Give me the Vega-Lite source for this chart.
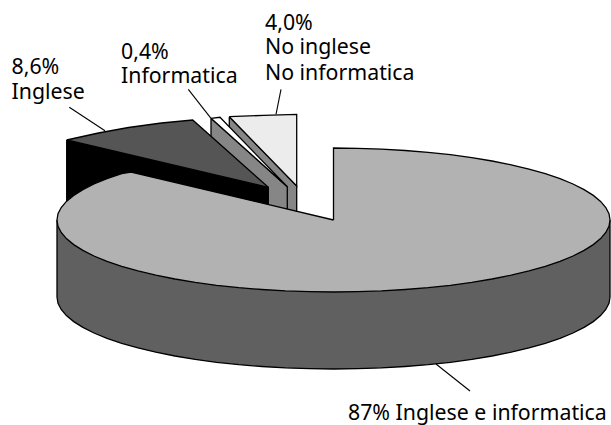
{"$schema":"https://vega.github.io/schema/vega-lite/v6.json","width":611,"height":425,"padding":0,"autosize":"none","background":"white","view":{"stroke":null},
"datasets":{
"mainSide":[{"x":-276.5,"y":0},{"x":-276.5,"y":-77},{"x":-275.5,"y":-83.3},{"x":-272.3,"y":-89.5},{"x":-267.1,"y":-95.6},{"x":-259.8,"y":-101.6},{"x":-250.6,"y":-107.4},{"x":-239.5,"y":-113},{"x":-226.5,"y":-118.3},{"x":-211.8,"y":-123.3},{"x":-195.5,"y":-127.9},{"x":-177.7,"y":-132.2},{"x":-158.6,"y":-136},{"x":-138.3,"y":-139.4},{"x":-116.9,"y":-142.3},{"x":-94.6,"y":-144.7},{"x":-71.6,"y":-146.5},{"x":-48,"y":-147.9},{"x":-24.1,"y":-148.7},{"x":0,"y":-149},{"x":24.1,"y":-148.7},{"x":48,"y":-147.9},{"x":71.6,"y":-146.5},{"x":94.6,"y":-144.7},{"x":116.9,"y":-142.3},{"x":138.3,"y":-139.4},{"x":158.6,"y":-136},{"x":177.7,"y":-132.2},{"x":195.5,"y":-127.9},{"x":211.8,"y":-123.3},{"x":226.5,"y":-118.3},{"x":239.5,"y":-113},{"x":250.6,"y":-107.4},{"x":259.8,"y":-101.6},{"x":267.1,"y":-95.6},{"x":272.3,"y":-89.5},{"x":275.5,"y":-83.3},{"x":276.5,"y":-77},{"x":276.5,"y":0}],
"mainTop":[{"x":0,"y":0},{"x":0,"y":72},{"x":24.1,"y":71.7},{"x":48,"y":70.9},{"x":71.6,"y":69.5},{"x":94.6,"y":67.7},{"x":116.9,"y":65.3},{"x":138.3,"y":62.4},{"x":158.6,"y":59},{"x":177.7,"y":55.2},{"x":195.5,"y":50.9},{"x":211.8,"y":46.3},{"x":226.5,"y":41.3},{"x":239.5,"y":36},{"x":250.6,"y":30.4},{"x":259.8,"y":24.6},{"x":267.1,"y":18.6},{"x":272.3,"y":12.5},{"x":275.5,"y":6.3},{"x":276.5,"y":0},{"x":275.5,"y":-6.3},{"x":272.3,"y":-12.5},{"x":267.1,"y":-18.6},{"x":259.8,"y":-24.6},{"x":250.6,"y":-30.4},{"x":239.5,"y":-36},{"x":226.5,"y":-41.3},{"x":211.8,"y":-46.3},{"x":195.5,"y":-50.9},{"x":177.7,"y":-55.2},{"x":158.6,"y":-59},{"x":138.3,"y":-62.4},{"x":116.9,"y":-65.3},{"x":94.6,"y":-67.7},{"x":71.6,"y":-69.5},{"x":48,"y":-70.9},{"x":24.1,"y":-71.7},{"x":0,"y":-72},{"x":-24.1,"y":-71.7},{"x":-48,"y":-70.9},{"x":-71.6,"y":-69.5},{"x":-94.6,"y":-67.7},{"x":-116.9,"y":-65.3},{"x":-138.3,"y":-62.4},{"x":-158.6,"y":-59},{"x":-177.7,"y":-55.2},{"x":-195.5,"y":-50.9},{"x":-211.8,"y":-46.3},{"x":-226.5,"y":-41.3},{"x":-239.5,"y":-36},{"x":-250.6,"y":-30.4},{"x":-259.8,"y":-24.6},{"x":-267.1,"y":-18.6},{"x":-272.3,"y":-12.5},{"x":-275.5,"y":-6.3},{"x":-276.5,"y":0},{"x":-275.5,"y":6.3},{"x":-272.3,"y":12.5},{"x":-267.1,"y":18.6},{"x":-259.8,"y":24.6},{"x":-250.6,"y":30.4},{"x":-239.5,"y":36},{"x":-226.5,"y":41.3},{"x":-211.8,"y":46.3},{"x":-202.5,"y":48},{"x":0,"y":0}],
"ingleseSide":[{"x":-266.8,"y":80},{"x":-65.2,"y":32.7},{"x":-65.2,"y":-45},{"x":-266.8,"y":3},{"x":-266.8,"y":80}],
"ingleseTop":[{"x":-266.8,"y":80},{"x":-235,"y":87},{"x":-205,"y":92.5},{"x":-172,"y":97},{"x":-140.8,"y":100},{"x":-65.2,"y":32.7},{"x":-266.8,"y":80}],
"infSide":[{"x":-122.5,"y":101.7},{"x":-46.2,"y":33.3},{"x":-46.2,"y":-44},{"x":-122.5,"y":25},{"x":-122.5,"y":101.7}],
"infTop":[{"x":-122.5,"y":101.7},{"x":-113.5,"y":102.7},{"x":-46.2,"y":33.3},{"x":-122.5,"y":101.7}],
"noneSide":[{"x":-104.2,"y":103.3},{"x":-36.8,"y":34},{"x":-36.8,"y":-43},{"x":-104.2,"y":26},{"x":-104.2,"y":103.3}],
"noneTop":[{"x":-104.2,"y":103.3},{"x":-70,"y":104.6},{"x":-36.8,"y":105.7},{"x":-36.8,"y":34},{"x":-104.2,"y":103.3}],
"leaders":[{"slice":"Inglese","x":-264.2,"y":112.7},{"slice":"Inglese","x":-228.5,"y":89.3},{"slice":"Informatica","x":-145.2,"y":130.7},{"slice":"Informatica","x":-122.5,"y":101.7},{"slice":"Nessuno","x":-52.5,"y":130.7},{"slice":"Nessuno","x":-57.5,"y":105.7},{"slice":"Entrambi","x":102.5,"y":-144},{"slice":"Entrambi","x":136.5,"y":-171}],
"labels":[{"t":"8,6%","x":-322,"y":146},{"t":"Inglese","x":-322,"y":121.3},{"t":"0,4%","x":-212.5,"y":160.7},{"t":"Informatica","x":-212.5,"y":136.7},{"t":"4,0%","x":-68.5,"y":190},{"t":"No inglese","x":-68.5,"y":166},{"t":"No informatica","x":-68.5,"y":140},{"t":"87% Inglese e informatica","x":14.5,"y":-200}]
},
"encoding":{"x":{"field":"x","type":"quantitative","scale":{"domain":[-333.5,277.5],"nice":false,"zero":false},"axis":null},"y":{"field":"y","type":"quantitative","scale":{"domain":[-205,220],"nice":false,"zero":false},"axis":null},"order":{"value":null}},
"layer":[
{"data":{"name":"noneSide"},"mark":{"type":"line","fill":"#868686","stroke":"#000","strokeWidth":1.3}},
{"data":{"name":"noneTop"},"mark":{"type":"line","fill":"#ececec","stroke":"#000","strokeWidth":1.3}},
{"data":{"name":"infSide"},"mark":{"type":"line","fill":"#868686","stroke":"#000","strokeWidth":1.3}},
{"data":{"name":"infTop"},"mark":{"type":"line","fill":"#ffffff","stroke":"#000","strokeWidth":1.3}},
{"data":{"name":"ingleseSide"},"mark":{"type":"line","fill":"#000000","stroke":"#000","strokeWidth":1.3}},
{"data":{"name":"ingleseTop"},"mark":{"type":"line","fill":"#555555","stroke":"#000","strokeWidth":1.3}},
{"data":{"name":"mainSide"},"mark":{"type":"line","fill":"#606060","stroke":"#000","strokeWidth":1.3}},
{"data":{"name":"mainTop"},"mark":{"type":"line","fill":"#b2b2b2","stroke":"#000","strokeWidth":1.3}},
{"data":{"name":"leaders"},"mark":{"type":"line","stroke":"#000","strokeWidth":1.1},"encoding":{"detail":{"field":"slice"}}},
{"data":{"name":"labels"},"mark":{"type":"text","align":"left","baseline":"alphabetic","font":"Noto Sans","fontSize":21.3,"fill":"#000"},"encoding":{"text":{"field":"t"},"order":{"value":null}}}
]}
